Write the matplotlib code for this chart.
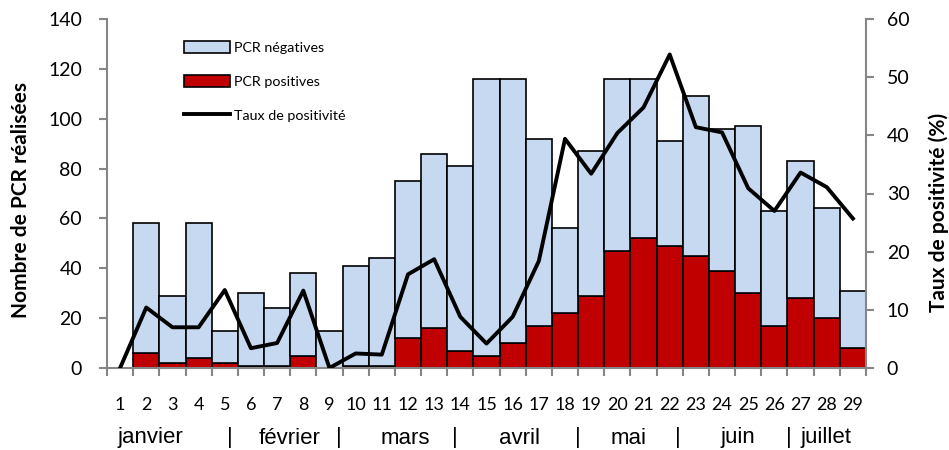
import matplotlib
matplotlib.use("Agg")
import matplotlib.pyplot as plt
import numpy as np
from matplotlib.lines import Line2D
from matplotlib.patches import Patch

weeks = [str(i) for i in range(1, 30)]
total = [0, 58, 29, 58, 15, 30, 24, 38, 15, 41, 44, 75, 86, 81, 116, 116, 92, 56, 87,
         116, 116, 91, 109, 96, 97, 63, 83, 64, 31]
positives = [0, 6, 2, 4, 2, 1, 1, 5, 0, 1, 1, 12, 16, 7, 5, 10, 17, 22, 29,
             47, 52, 49, 45, 39, 30, 17, 28, 20, 8]
rate = [0, 10.4, 7.0, 7.0, 13.4, 3.4, 4.3, 13.3, 0, 2.5, 2.3, 16.1, 18.7, 8.8, 4.2, 8.8,
        18.4, 39.4, 33.4, 40.4, 44.8, 53.9, 41.4, 40.5, 30.9, 27.0, 33.6, 31.1, 25.7]
months = ["janvier", "|", "février", "|", "mars", "|", "avril", "|", "mai", "|", "juin", "|", "juillet"]
month_x = [150, 230, 290, 339, 405, 455, 520, 578, 629, 678, 738, 789, 826]

negatives = [t - p for t, p in zip(total, positives)]
x = np.arange(len(weeks))

W, H = 949, 450
fig = plt.figure(figsize=(W / 100, H / 100), dpi=100)
ax = fig.add_axes([107 / W, 1 - 368 / H, (866 - 107) / W, (368 - 19) / H])
ax2 = ax.twinx()

blue = "#C6D9F1"
red = "#C00000"
ax.bar(x, positives, width=1.0, color=red, edgecolor="black", linewidth=1.2, zorder=2)
ax.bar(x, negatives, width=1.0, bottom=positives, color=blue, edgecolor="black", linewidth=1.2, zorder=2)
ax2.plot(x, rate, color="black", linewidth=2.8, zorder=3)

ax.set_xlim(-0.5, len(weeks) - 0.5)
ax.set_ylim(0, 140)
ax2.set_ylim(0, 60)
ax.set_yticks(range(0, 141, 20))
ax2.set_yticks(range(0, 61, 10))

gray = "#868686"
for a in (ax, ax2):
    for s in a.spines.values():
        s.set_color(gray)
        s.set_linewidth(1.5)
    a.spines["top"].set_visible(False)
ax.spines["right"].set_visible(False)
ax2.spines["left"].set_visible(False)
ax2.spines["bottom"].set_visible(False)

tick_font = "Lato"
ax.tick_params(axis="y", direction="out", length=6, width=1.5, color=gray, labelsize=14, pad=12)
ax2.tick_params(axis="y", direction="out", length=6, width=1.5, color=gray, labelsize=14, pad=9)
for lab in ax.get_yticklabels() + ax2.get_yticklabels():
    lab.set_fontfamily(tick_font)

ax.set_xticks(x)
ax.set_xticklabels(weeks, fontsize=13, family="Lato")
ax.tick_params(axis="x", which="major", length=0, pad=21)
ax.set_xticks(np.arange(-0.5, len(weeks), 1.0), minor=True)
ax.tick_params(axis="x", which="minor", direction="out", length=6, width=1.5, color=gray)

fig.text(21 / W, 1 - 200 / H, "Nombre de PCR réalisées", rotation=90, ha="center", va="center",
         fontsize=15, fontweight="bold", family="Lato")
fig.text(939 / W, 1 - 212 / H, "Taux de positivité (%)", rotation=90, ha="center", va="center",
         fontsize=15, fontweight="bold", family="Lato")

for m, mx in zip(months, month_x):
    fig.text(mx / W, 1 - 438 / H, m, ha="center", va="center", fontsize=16,
             family="Liberation Sans")

handles = [Patch(facecolor=blue, edgecolor="black", linewidth=1.2),
           Patch(facecolor=red, edgecolor="black", linewidth=1.2),
           Line2D([0], [0], color="black", linewidth=2.8)]
leg = ax.legend(handles, ["PCR négatives", "PCR positives", "Taux de positivité"],
                loc="upper left", bbox_to_anchor=(0.085, 0.975), frameon=False,
                prop={"family": "Lato", "size": 10.3}, labelspacing=1.45, handlelength=3.2,
                handleheight=1.0, handletextpad=0.3)

fig.savefig("out.png", dpi=100)
